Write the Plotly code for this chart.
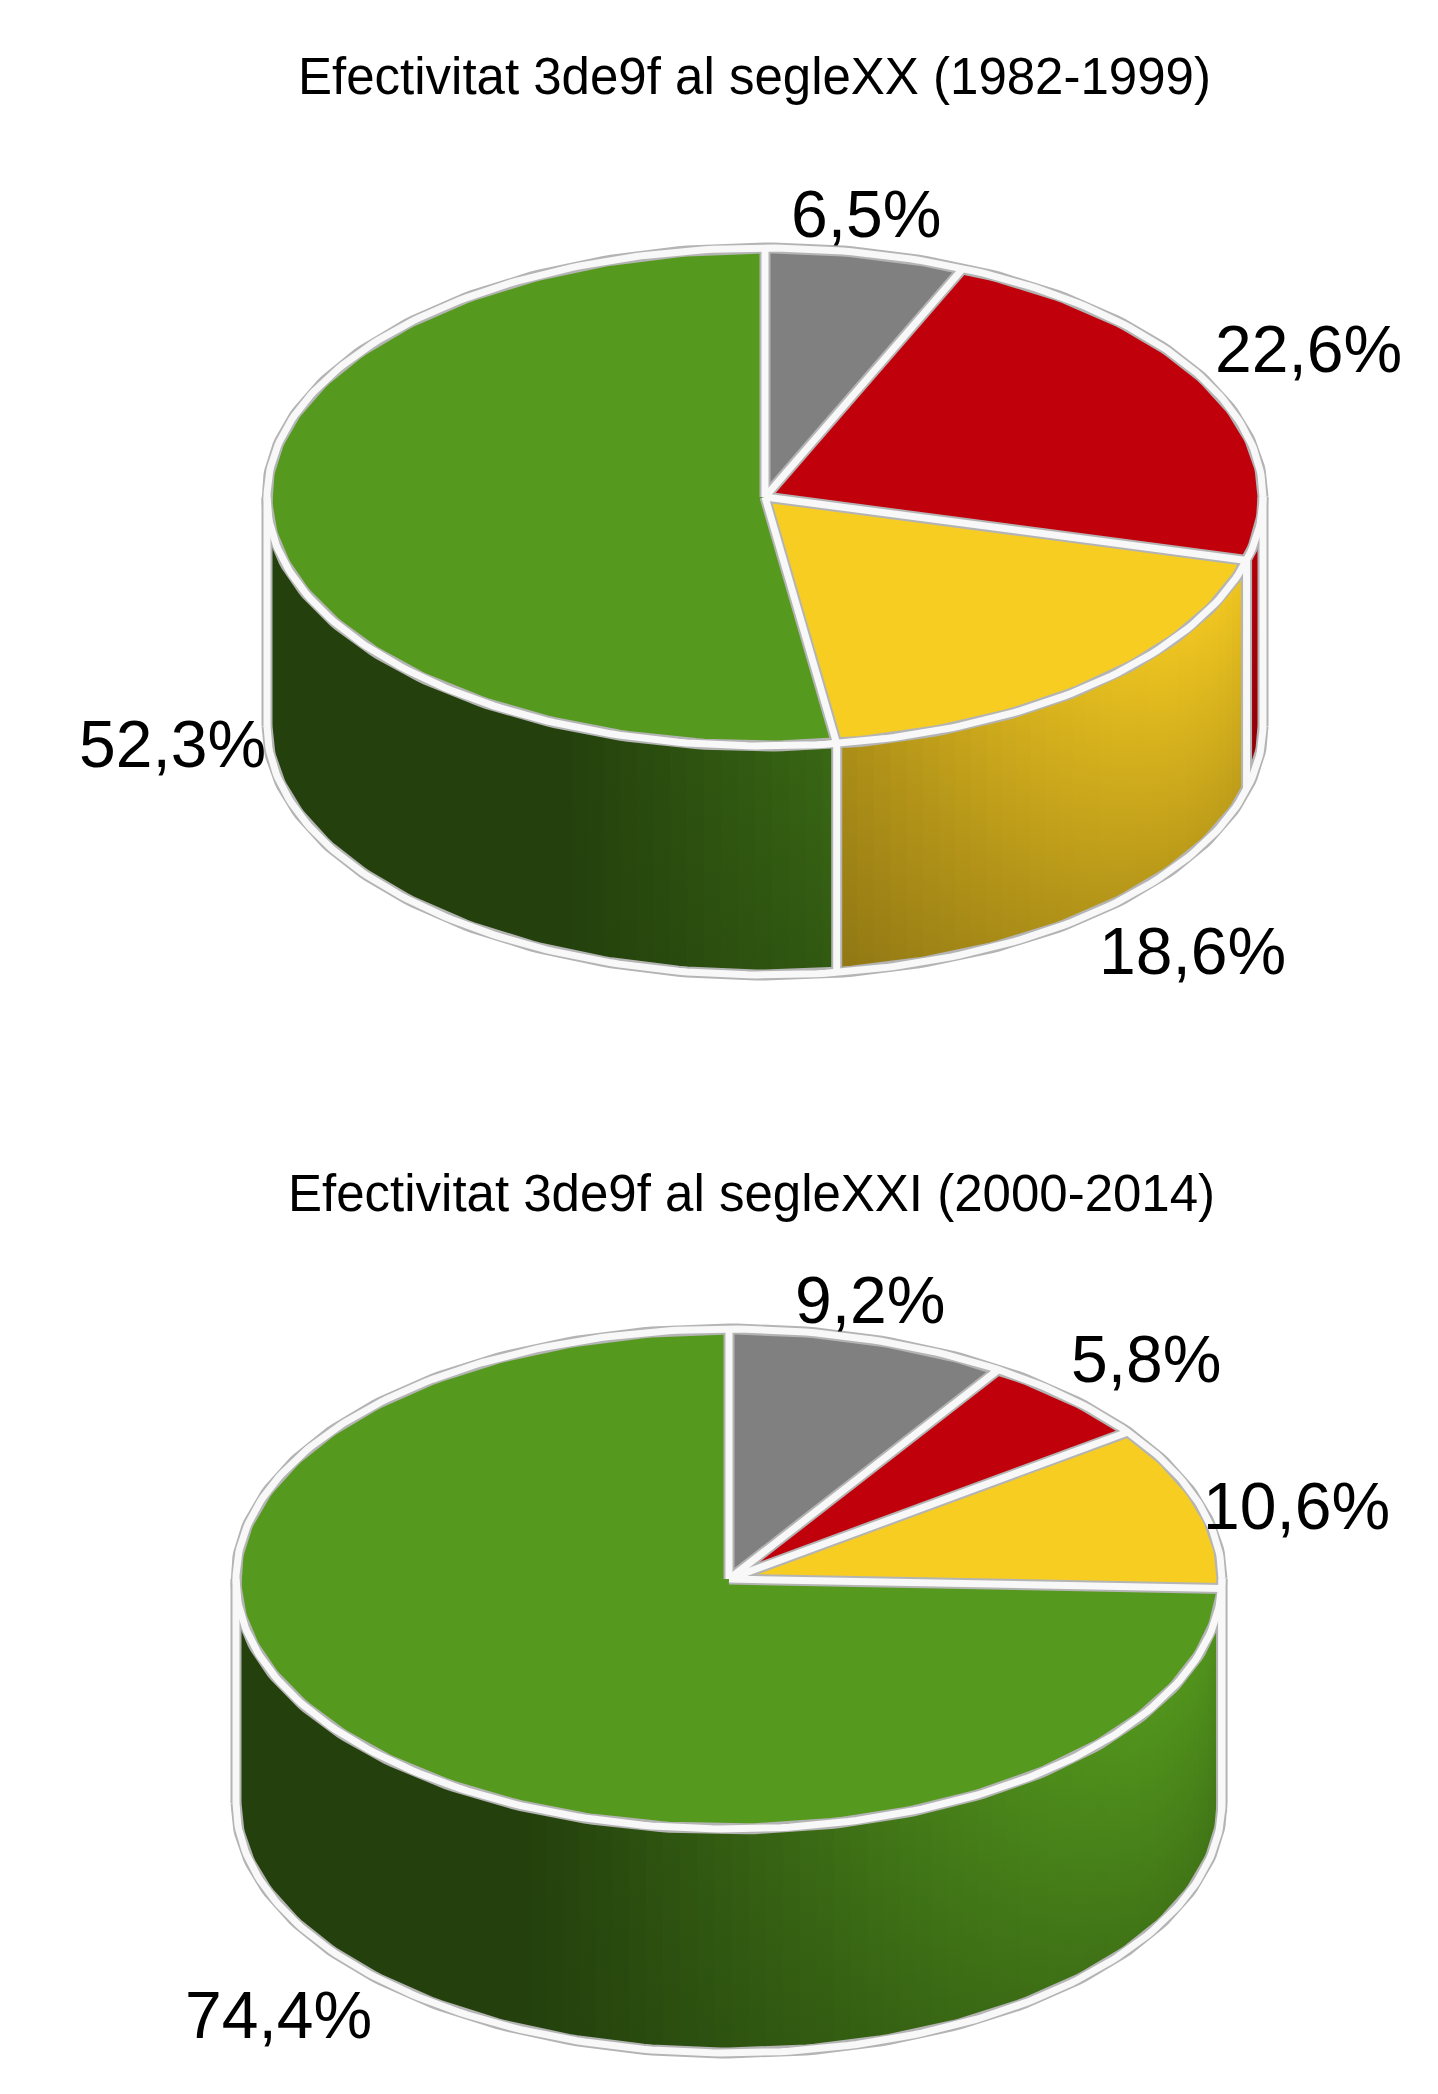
import numpy as np
import plotly.graph_objects as go

# Data (percent, clockwise from 12 o'clock).
titles = ["Efectivitat 3de9f al segleXX (1982-1999)",
          "Efectivitat 3de9f al segleXXI (2000-2014)"]
values_xx = [6.5, 22.6, 18.6, 52.3]
values_xxi = [9.2, 5.8, 10.6, 74.4]
slice_colors = ["#808080", "#c0000b", "#f8cd22", "#559a1e"]

W, H = 1438, 2094
FONT = "Liberation Sans, Arial, sans-serif"


def shade(hex_color, k):
    r, g, b = (int(hex_color[i:i + 2], 16) for i in (1, 3, 5))
    r, g, b = (min(255, int(round(c * k))) for c in (r, g, b))
    return f"rgb({r},{g},{b})"


def light(theta):
    # light coming from the upper right front
    c = max(0.0, np.cos(np.radians(theta + 25))) ** 1.2
    return 0.42 + 0.55 * c, 0.42 + 0.33 * c


def draw_pie(fig, values, cx, cy, a, b, h):
    ex = lambda t: cx + a * np.cos(np.radians(t))
    ey = lambda t: cy - b * np.sin(np.radians(t))

    total = sum(values)
    bounds = []
    start = 90.0
    for v in values:
        end = start - v / total * 360
        bounds.append((start, end))
        start = end

    # side walls, front half only, in thin strips so the shading can vary
    for (s, e), col in zip(bounds, slice_colors):
        hi, lo = min(s, 0.0), max(e, -180.0)
        if hi <= lo:
            continue
        n = max(1, int(np.ceil((hi - lo) / 2.0)))
        edges = np.linspace(hi, lo, n + 1)
        for t1, t2 in zip(edges[:-1], edges[1:]):
            a1 = min(hi, t1 + 0.4)
            a2 = max(lo, t2 - 0.4)
            ts = np.linspace(a1, a2, 4)
            xs = list(ex(ts)) + list(ex(ts[::-1]))
            ys = list(ey(ts)) + list(ey(ts[::-1]) + h)
            ktop, kbot = light((t1 + t2) / 2)
            fig.add_trace(go.Scatter(
                x=xs, y=ys, mode="lines", fill="toself", line=dict(width=0),
                fillgradient=dict(type="vertical", start=min(ey(ts)),
                                  stop=max(ey(ts)) + h,
                                  colorscale=[[0, shade(col, ktop)],
                                              [1, shade(col, kbot)]]),
                hoverinfo="skip", showlegend=False))

    # top faces
    for (s, e), col in zip(bounds, slice_colors):
        ts = np.linspace(s, e, max(3, int(abs(s - e)) + 2))
        fig.add_trace(go.Scatter(
            x=[cx] + list(ex(ts)) + [cx], y=[cy] + list(ey(ts)) + [cy],
            mode="lines", fill="toself", fillcolor=col, line=dict(width=0),
            hoverinfo="skip", showlegend=False))

    # outlines
    lx, ly = [], []

    def seg(xs, ys):
        lx.extend(list(xs) + [None])
        ly.extend(list(ys) + [None])

    ring = np.linspace(0, 360, 361)
    seg(ex(ring), ey(ring))
    front = np.linspace(-180, 0, 181)
    seg(ex(front), ey(front) + h)
    for t in (180, 0):
        seg([ex(t), ex(t)], [ey(t), ey(t) + h])
    for s, _ in bounds:
        seg([cx, ex(s)], [cy, ey(s)])
        s_front = s if s <= 0 else s - 360
        if -180 < s_front < 0:
            seg([ex(s), ex(s)], [ey(s), ey(s) + h])
    fig.add_trace(go.Scatter(x=lx, y=ly, mode="lines",
                             line=dict(color="#b4b4b4", width=11),
                             hoverinfo="skip", showlegend=False))
    fig.add_trace(go.Scatter(x=lx, y=ly, mode="lines",
                             line=dict(color="#f8f8f8", width=7),
                             hoverinfo="skip", showlegend=False))

    # percentage labels just outside the rim, on the side facing away
    for (s, e), v in zip(bounds, values):
        m = np.radians((s + e) / 2)
        c, sn = np.cos(m), np.sin(m)
        px_ = cx + a * c
        py_ = cy - b * sn + (h if sn < 0 else 0)
        xa = "left" if c > 0.4 else ("right" if c < -0.4 else "center")
        ya = "bottom" if sn > 0.35 else ("top" if sn < -0.35 else "middle")
        fig.add_annotation(x=px_, y=py_, xref="x", yref="y", showarrow=False,
                           text=f"{v:.1f}".replace(".", ",") + "%",
                           font=dict(family=FONT, size=66, color="black"),
                           xanchor=xa, yanchor=ya)


fig = go.Figure()
draw_pie(fig, values_xx, cx=757, cy=489, a=498, b=249, h=229)
draw_pie(fig, values_xxi, cx=721, cy=1571, a=493, b=250, h=224)

for text, (tx, ty) in zip(titles, [(746, 68), (743, 1185)]):
    fig.add_annotation(x=tx, y=ty, xref="x", yref="y", showarrow=False,
                       text=text, font=dict(family=FONT, size=51, color="black"),
                       xanchor="center", yanchor="middle")

fig.update_layout(width=W, height=H, margin=dict(l=0, r=0, t=0, b=0),
                  paper_bgcolor="white", plot_bgcolor="white",
                  showlegend=False)
fig.update_xaxes(range=[0, W], visible=False, fixedrange=True)
fig.update_yaxes(range=[H, 0], visible=False, fixedrange=True)

fig.write_html("out.html")
